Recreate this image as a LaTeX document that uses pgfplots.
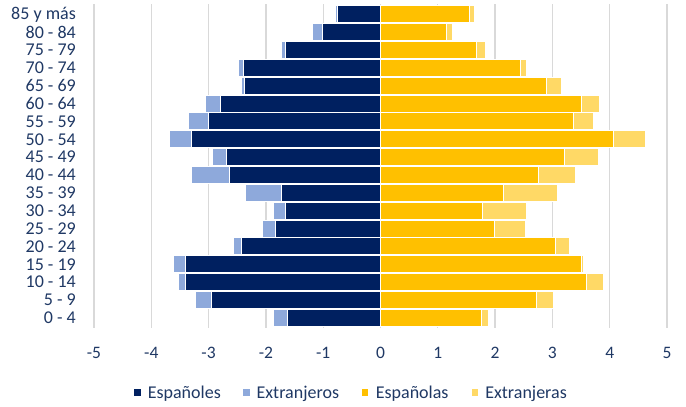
\documentclass[border=0pt]{standalone}
\usepackage{pgfplots}
\pgfplotsset{compat=1.18}
\usepackage{pgfplotstable}
\usepackage{fontspec}
\setmainfont{Carlito}
\definecolor{navy}{RGB}{0,32,96}
\definecolor{lblue}{RGB}{142,169,219}
\definecolor{gold}{RGB}{255,192,0}
\definecolor{lgold}{RGB}{255,217,102}
\definecolor{labelcol}{RGB}{31,56,100}
\definecolor{gridgray}{RGB}{217,217,217}
\newcommand{\chartfont}{\fontsize{18bp}{21bp}\selectfont}
\newcommand{\tickfont}{\fontsize{17.5bp}{21bp}\selectfont}

\pgfplotstableread{
y esp ext
0  -1.62 -0.24
1  -2.95 -0.28
2  -3.40 -0.13
3  -3.40 -0.21
4  -2.43 -0.14
5  -1.83 -0.23
6  -1.66 -0.20
7  -1.73 -0.63
8  -2.63 -0.66
9  -2.69 -0.24
10 -3.30 -0.39
11 -3.00 -0.35
12 -2.79 -0.26
13 -2.37 -0.06
14 -2.39 -0.08
15 -1.66 -0.06
16 -1.01 -0.18
17 -0.75 -0.03
}\males

\pgfplotstableread{
y esp ext
0  1.76 0.12
1  2.73 0.29
2  3.60 0.30
3  3.50 0.05
4  3.05 0.25
5  1.99 0.54
6  1.78 0.77
7  2.15 0.94
8  2.75 0.65
9  3.21 0.59
10 4.07 0.56
11 3.36 0.36
12 3.51 0.31
13 2.90 0.26
14 2.45 0.10
15 1.68 0.15
16 1.16 0.10
17 1.56 0.08
}\females

\begin{document}
\begin{tikzpicture}
\path[use as bounding box] (0,0) rectangle (686bp,407bp);
\pgfplotsset{common/.style={
  scale only axis, width=573bp, height=323.1bp,
  at={(94bp,79.4bp)}, anchor=south west,
  xmin=-5, xmax=5, ymin=-0.55, ymax=17.55,
  xbar stacked, bar width=17bp,
  axis line style={draw=none}, major tick length=0pt,
}}
\begin{axis}[common,
  xtick={-5,-4,-3,-2,-1,0,1,2,3,4,5},
  xticklabels={-5,-4,-3,-2,-1,0,1,2,3,4,5},
  ytick={0,...,17},
  yticklabels={0 - 4,5 - 9,10 - 14,15 - 19,20 - 24,25 - 29,30 - 34,35 - 39,40 - 44,45 - 49,50 - 54,55 - 59,60 - 64,65 - 69,70 - 74,75 - 79,80 - 84,85 y más},
  xmajorgrids, major grid style={color=gridgray, line width=1.3bp},
  tick label style={text=labelcol},
  yticklabel style={font=\chartfont, inner sep=0pt, xshift=-18bp},
  xticklabel style={font=\tickfont, inner sep=0pt, yshift=-19bp},
]
\addplot[fill=navy, draw=white, line width=1bp] table[x=esp, y=y]{\males};
\addplot[fill=lblue, draw=white, line width=1bp] table[x=ext, y=y]{\males};
\end{axis}
\begin{axis}[common,
  xtick=\empty, ytick=\empty,
  legend image code/.code={\fill[#1] (0bp,-3.2bp) rectangle (7.3bp,4.2bp);},
  legend columns=4,
  legend style={at={(0.4475,-0.203)}, anchor=center, draw=none, fill=none,
    font=\chartfont, text=labelcol, nodes={inner sep=0pt},
    /tikz/every odd column/.append style={column sep=6.5bp},
    /tikz/every even column/.append style={column sep=22bp}},
  legend cell align=left,
]
\addlegendimage{fill=navy, draw=none}
\addlegendentry{Españoles}
\addlegendimage{fill=lblue, draw=none}
\addlegendentry{Extranjeros}
\addplot[fill=gold, draw=white, line width=1bp] table[x=esp, y=y]{\females};
\addlegendentry{Españolas}
\addplot[fill=lgold, draw=white, line width=1bp] table[x=ext, y=y]{\females};
\addlegendentry{Extranjeras}
\end{axis}
\end{tikzpicture}
\end{document}
